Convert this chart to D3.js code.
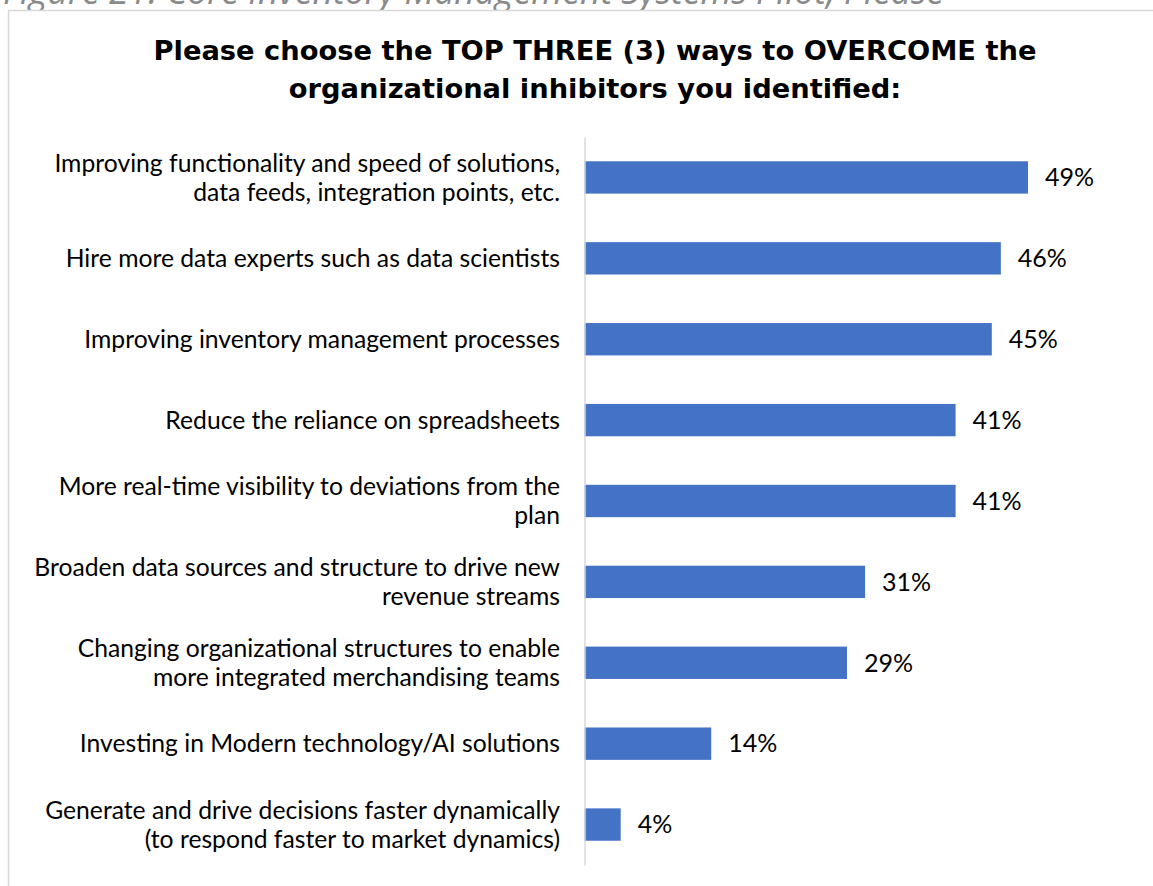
<!DOCTYPE html>
<html>
<head>
<meta charset="utf-8">
<script src="https://cdn.jsdelivr.net/npm/d3@7"></script>
<style>
  html, body { margin: 0; padding: 0; background: #fff; overflow: hidden; }
  svg { display: block; }
</style>
</head>
<body>
<svg id="chart" width="1153" height="886"></svg>
<script>
// Survey answers, top to bottom; each label is split into its display lines
const categories = [
  ["Improving functionality and speed of solutions,", "data feeds, integration points, etc."],
  ["Hire more data experts such as data scientists"],
  ["Improving inventory management processes"],
  ["Reduce the reliance on spreadsheets"],
  ["More real-time visibility to deviations from the", "plan"],
  ["Broaden data sources and structure to drive new", "revenue streams"],
  ["Changing organizational structures to enable", "more integrated merchandising teams"],
  ["Investing in Modern technology/AI solutions"],
  ["Generate and drive decisions faster dynamically", "(to respond faster to market dynamics)"]
];
const values = [49, 46, 45, 41, 41, 31, 29, 14, 4];
const titleLines = [
  "Please choose the TOP THREE (3) ways to OVERCOME the",
  "organizational inhibitors you identified:"
];
const captionText = "Figure 21: Core Inventory Management Systems Pilot, Please";

const svg = d3.select("#chart");
const W = 1153, H = 886;
const font = "Lato, 'Open Sans', sans-serif";

// caption line above the chart frame (clipped by the top edge)
svg.append("text")
  .attr("x", 3).attr("y", 4)
  .attr("font-family", "'Open Sans', sans-serif")
  .attr("font-style", "italic")
  .attr("font-size", 35.6)
  .attr("fill", "#8a8a8a")
  .text(captionText);

// chart frame
svg.append("rect")
  .attr("x", 8.5).attr("y", 10.5)
  .attr("width", W + 20).attr("height", H + 20)
  .attr("fill", "#fff")
  .attr("stroke", "#d9d9d9")
  .attr("stroke-width", 1.5);

// title
svg.append("g").selectAll("text")
  .data(titleLines)
  .join("text")
  .attr("x", 595)
  .attr("y", (d, i) => 60 + i * 38)
  .attr("text-anchor", "middle")
  .attr("font-family", "'DejaVu Sans', sans-serif")
  .attr("font-weight", 700)
  .attr("font-size", 27.3)
  .attr("fill", "#000")
  .text(d => d);

const x0 = 584.5;
const x = d3.scaleLinear().domain([0, 49]).range([x0, 1028]);
const y = d3.scaleBand()
  .domain(d3.range(values.length))
  .range([137, 865])
  .paddingInner(0.6)
  .paddingOuter(0.3);

// bars
svg.append("g").selectAll("rect")
  .data(values)
  .join("rect")
  .attr("x", x(0))
  .attr("y", (d, i) => y(i))
  .attr("width", d => x(d) - x(0))
  .attr("height", y.bandwidth())
  .attr("fill", "#4472c4");

// category axis
const axis = d3.axisLeft(y).tickSize(0).tickFormat("");
const axisG = svg.append("g")
  .attr("transform", `translate(${x0},0)`)
  .call(axis);
axisG.select(".domain").attr("stroke", "#d9d9d9").attr("stroke-width", 1.5);

// category labels
const lineH = 29;
const lab = svg.append("g").selectAll("text")
  .data(categories)
  .join("text")
  .attr("text-anchor", "end")
  .attr("font-family", font)
  .attr("font-size", 24.7)
  .attr("fill", "#000");
lab.each(function(lines, i) {
  const cy = y(i) + y.bandwidth() / 2;
  const top = cy - (lines.length - 1) * lineH / 2;
  d3.select(this).selectAll("tspan")
    .data(lines)
    .join("tspan")
    .attr("x", 560)
    .attr("y", (d, j) => top + j * lineH)
    .attr("dy", "0.35em")
    .text(d => d);
});

// value labels
svg.append("g").selectAll("text")
  .data(values)
  .join("text")
  .attr("x", d => x(d) + 17)
  .attr("y", (d, i) => y(i) + y.bandwidth() / 2)
  .attr("dy", "0.35em")
  .attr("font-family", font)
  .attr("font-size", 25)
  .attr("fill", "#000")
  .text(d => d + "%");
</script>
</body>
</html>
